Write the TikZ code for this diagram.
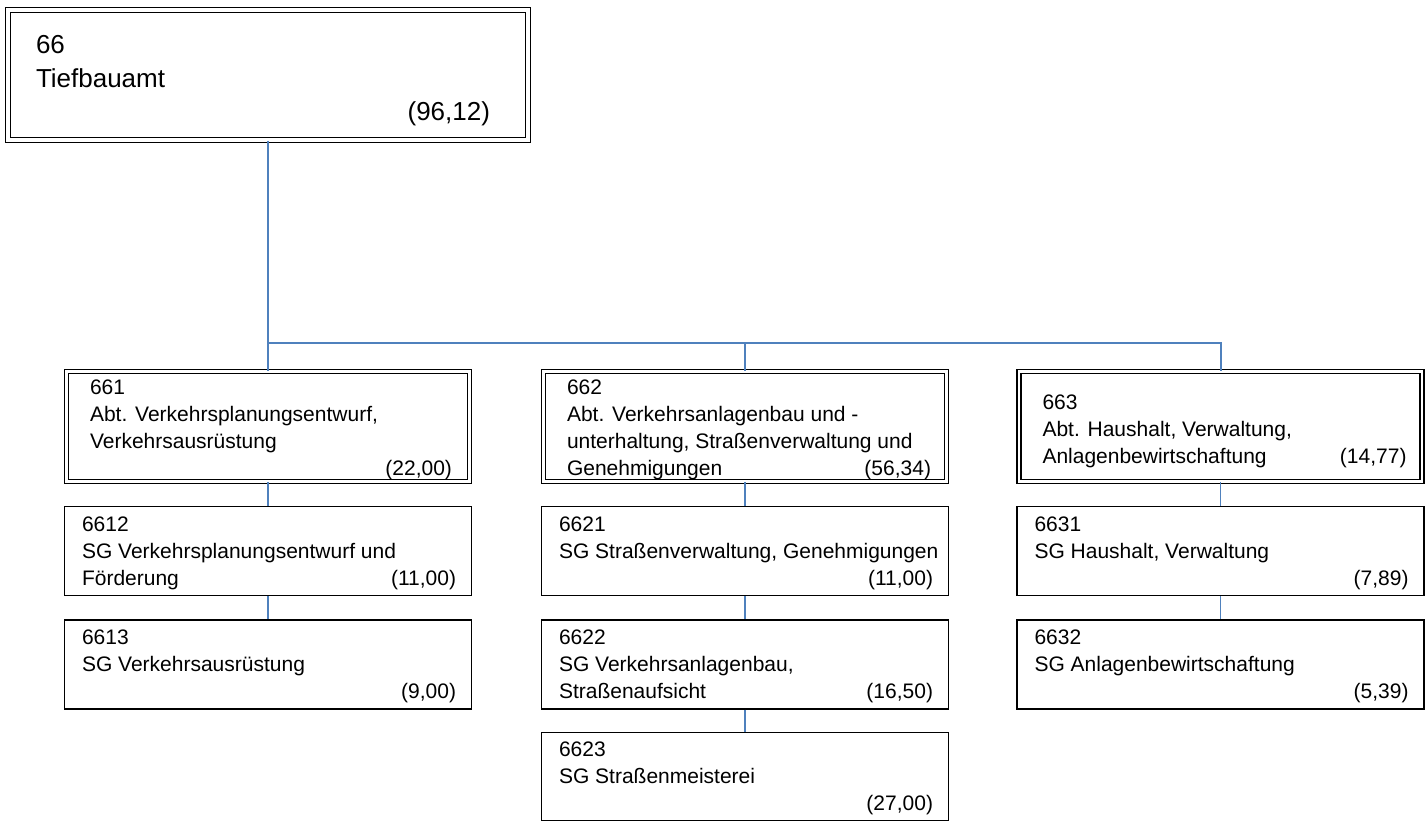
\documentclass[tikz,border=0pt]{standalone}
\usepackage{fontspec}
\setmainfont{Liberation Sans}
\hfuzz=200pt
\hbadness=10000
\newcommand\orgtext[5][6pt]{\begin{minipage}{#2}\vspace*{#1}\leftskip=#3\rightskip=#4\relax #5\end{minipage}}
\definecolor{connblue}{RGB}{79,129,189}
\begin{document}
\begin{tikzpicture}[x=1pt,y=-1pt,
  topbox/.style={draw=black, double, double distance=3.2pt, line width=1.4pt, inner sep=0pt,
    minimum width=520pt, minimum height=130pt, font=\fontsize{26}{33.5}\selectfont},
  dbox/.style={draw=black, double, double distance=2.6pt, line width=1.3pt, inner sep=0pt,
    minimum width=403pt, minimum height=110pt, font=\fontsize{21}{27}\selectfont},
  sbox/.style={draw=black, line width=1.4pt, inner sep=0pt,
    minimum width=407pt, minimum height=89pt, font=\fontsize{21}{27}\selectfont},
  mainconn/.style={draw=connblue, line width=2pt},
  subconn/.style={draw=connblue, line width=1.6pt}]
\useasboundingbox (0,0) rectangle (1427,822);

% top
\node[topbox] (n66) at (268,75) {\orgtext[12pt]{500pt}{18pt}{28pt}{66\\Tiefbauamt\\\mbox{}\hfill(96,12)}};

% level 1
\node[dbox] (n661) at (268,426.5) {\orgtext{380pt}{12pt}{6pt}{661\\Abt. Verkehrsplanungsentwurf,\\Verkehrsausrüstung\\\mbox{}\hfill(22,00)}};
\node[dbox] (n662) at (745,426.5) {\orgtext{380pt}{12pt}{4pt}{662\\Abt. Verkehrsanlagenbau und -\\\mbox{unterhaltung, Straßenverwaltung und}\\Genehmigungen\hfill(56,34)}};
\node[dbox] (n663) at (1220.5,426.5) {\orgtext[10pt]{380pt}{12pt}{4pt}{663\\Abt. Haushalt, Verwaltung,\\Anlagenbewirtschaftung\hfill(14,77)}};

% level 2
\node[sbox] (n6612) at (268,551) {\orgtext[4pt]{380pt}{4pt}{2pt}{6612\\SG Verkehrsplanungsentwurf und\\Förderung\hfill(11,00)}};
\node[sbox] (n6621) at (745,551) {\orgtext[4pt]{380pt}{4pt}{2pt}{6621\\\mbox{SG Straßenverwaltung, Genehmigungen}\\\mbox{}\hfill(11,00)}};
\node[sbox] (n6631) at (1220.5,551) {\orgtext[4pt]{380pt}{4pt}{2pt}{6631\\SG Haushalt, Verwaltung\\\mbox{}\hfill(7,89)}};

% level 3
\node[sbox] (n6613) at (268,664.5) {\orgtext[4pt]{380pt}{4pt}{2pt}{6613\\SG Verkehrsausrüstung\\\mbox{}\hfill(9,00)}};
\node[sbox] (n6622) at (745,664.5) {\orgtext[4pt]{380pt}{4pt}{2pt}{6622\\SG Verkehrsanlagenbau,\\Straßenaufsicht\hfill(16,50)}};
\node[sbox] (n6632) at (1220.5,664.5) {\orgtext[4pt]{380pt}{4pt}{2pt}{6632\\SG Anlagenbewirtschaftung\\\mbox{}\hfill(5,39)}};

% level 4
\node[sbox, minimum height=88pt] (n6623) at (745,776.5) {\orgtext[4pt]{380pt}{4pt}{2pt}{6623\\SG Straßenmeisterei\\\mbox{}\hfill(27,00)}};

% connectors
\coordinate (bus) at (268,343);
\draw[mainconn] (n66.south) -- (n661.north);
\draw[mainconn] (bus) -| (n662.north);
\draw[mainconn] (bus) -| (n663.north);

\draw[subconn] (n661.south) -- (n6612.north);
\draw[subconn] (n6612.south) -- (n6613.north);
\draw[subconn] (n662.south) -- (n6621.north);
\draw[subconn] (n6621.south) -- (n6622.north);
\draw[subconn] (n6622.south) -- (n6623.north);
\draw[subconn] (n663.south) -- (n6631.north);
\draw[subconn] (n6631.south) -- (n6632.north);
\end{tikzpicture}
\end{document}
